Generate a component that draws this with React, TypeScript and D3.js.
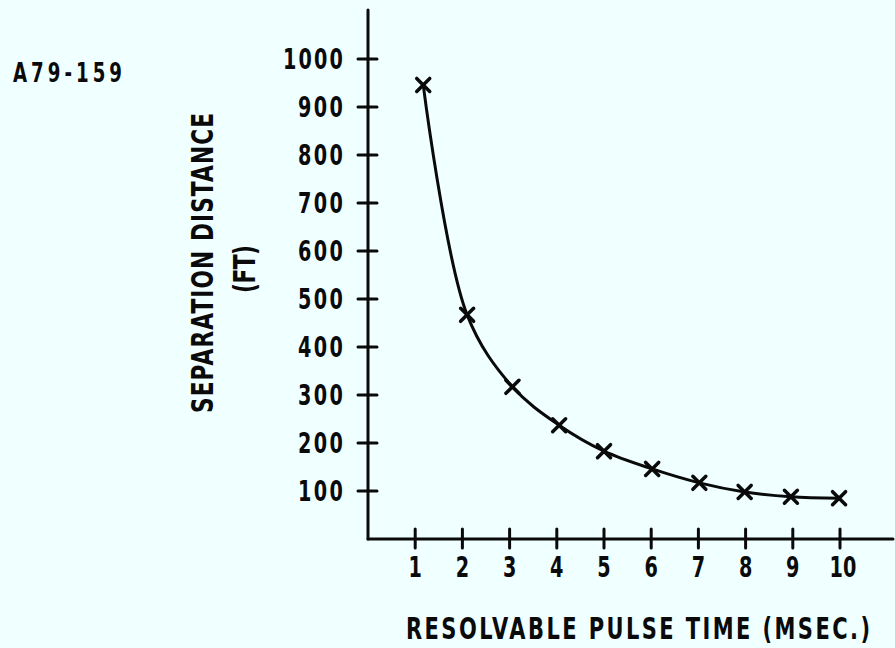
import React from "react";
import * as d3 from "d3";

const xTicks = [1, 2, 3, 4, 5, 6, 7, 8, 9, 10];
const yTicks = [100, 200, 300, 400, 500, 600, 700, 800, 900, 1000];
const pulseTime = [1.17, 2.1, 3.06, 4.05, 5.0, 6.02, 7.02, 7.98, 8.96, 9.98];
const separation = [946, 467, 317, 237, 183, 146, 117, 98, 88, 85];
const figureId = "A79-159";
const yLabel = "SEPARATION DISTANCE";
const yUnit = "(FT)";
const xLabel = "RESOLVABLE PULSE TIME (MSEC.)";

const W = 895;
const H = 648;
const FONT = "'DejaVu Sans', sans-serif";
const INK = "#0a0a0a";
const K = 0.7;

type CTProps = {
  x: number;
  y: number;
  size: number;
  len?: number;
  anchor?: "start" | "middle" | "end";
  rotate?: number;
  children: React.ReactNode;
};

function CText({ x, y, size, len, anchor = "start", rotate = 0, children }: CTProps) {
  return (
    <text
      transform={`translate(${x},${y}) rotate(${rotate}) scale(${K},1)`}
      fontSize={size}
      textAnchor={anchor}
      textLength={len ? len / K : undefined}
      lengthAdjust="spacing"
    >
      {children}
    </text>
  );
}

export default function App() {
  const x = d3.scaleLinear().domain([0, 10]).range([368, 840]);
  const y = d3.scaleLinear().domain([0, 1000]).range([539, 59]);
  const pts = pulseTime.map((t, i) => [x(t), y(separation[i])] as [number, number]);
  const line = d3.line().curve(d3.curveCatmullRom.alpha(0.5))(pts) || "";
  const m = 6.5;
  return (
    <svg
      width={W}
      height={H}
      style={{ position: "absolute", left: 0, top: 0, background: "#f0ffff" }}
    >
      <rect x={0} y={0} width={W} height={H} fill="#f0ffff" />
      <g fontFamily={FONT} fontWeight="bold" fill={INK}>
        <CText x={13} y={82} size={26} len={109}>{figureId}</CText>
        <CText x={213} y={263} size={31} len={300} anchor="middle" rotate={-90}>
          {yLabel}
        </CText>
        <CText x={255} y={269} size={31} len={48} anchor="middle" rotate={-90}>
          {yUnit}
        </CText>
        <CText x={638} y={639} size={30} len={464} anchor="middle">
          {xLabel}
        </CText>
        {yTicks.map((v) => (
          <CText
            key={v}
            x={343}
            y={y(v) + 10}
            size={27.5}
            len={String(v).length === 4 ? 60 : 45}
            anchor="end"
          >
            {v}
          </CText>
        ))}
        {xTicks.map((v) => (
          <CText
            key={v}
            x={x(v) + (v === 10 ? 3 : 0)}
            y={577}
            size={27.5}
            len={String(v).length === 2 ? 27 : undefined}
            anchor="middle"
          >
            {v}
          </CText>
        ))}
      </g>
      <g stroke={INK} strokeWidth={3} fill="none" strokeLinecap="round">
        <line x1={368} y1={10} x2={368} y2={539} />
        <line x1={368} y1={539} x2={893} y2={539} />
        {yTicks.map((v) => (
          <line key={v} x1={358} x2={377} y1={y(v)} y2={y(v)} />
        ))}
        {xTicks.map((v) => (
          <line key={v} x1={x(v)} x2={x(v)} y1={529} y2={548} />
        ))}
        <path d={line} />
        {pts.map(([px, py], i) => (
          <g key={i} strokeWidth={3.5}>
            <line x1={px - m} y1={py - m} x2={px + m} y2={py + m} />
            <line x1={px - m} y1={py + m} x2={px + m} y2={py - m} />
          </g>
        ))}
      </g>
    </svg>
  );
}
